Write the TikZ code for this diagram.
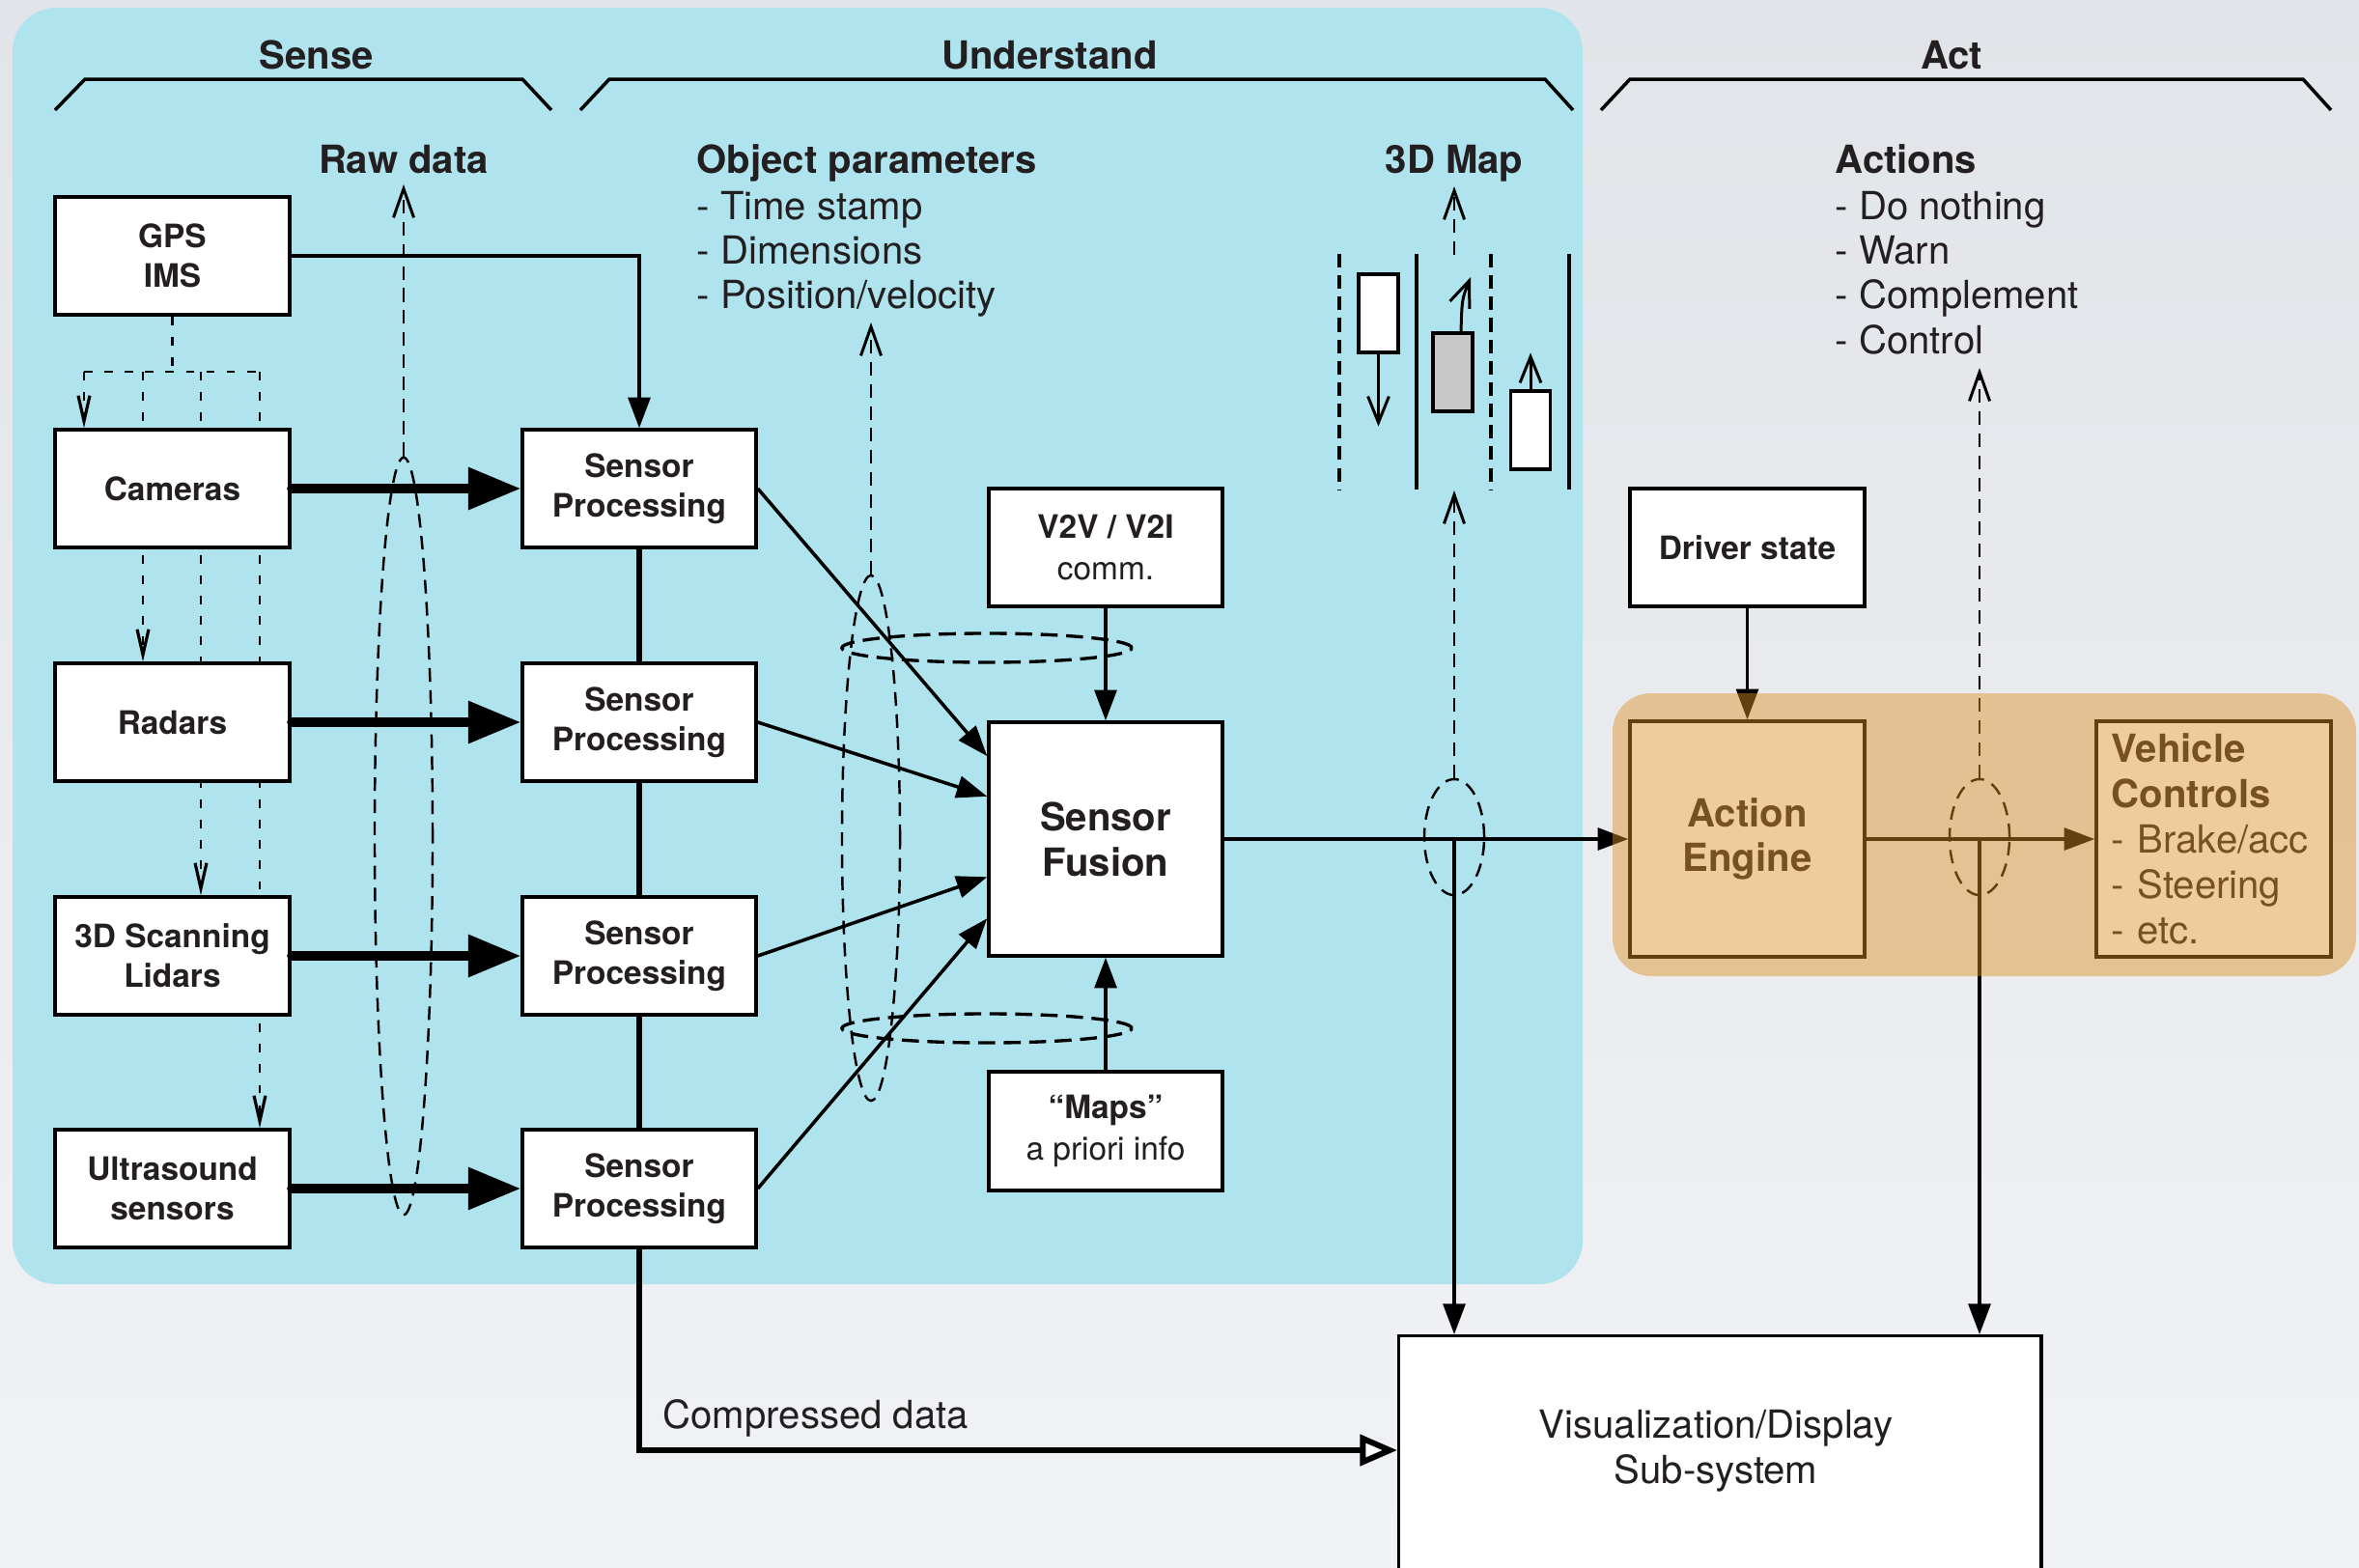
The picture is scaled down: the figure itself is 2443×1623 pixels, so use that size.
\documentclass[tikz,border=0pt]{standalone}
\usepackage{fontspec}
\setmainfont{TeX Gyre Heros}
\usetikzlibrary{arrows.meta,shapes.geometric,calc}
\pgfdeclarelayer{backdrop}
\pgfdeclarelayer{under}
\pgfdeclarelayer{tint}
\pgfsetlayers{backdrop,under,main,tint}

\definecolor{bgtop}{RGB}{225,228,232}
\definecolor{bgbot}{RGB}{241,242,245}
\definecolor{sky}{RGB}{175,228,238}
\definecolor{amber}{RGB}{221,144,35}
\definecolor{cargray}{RGB}{200,200,200}
\definecolor{ink}{RGB}{35,31,32}

\begin{document}
\begin{tikzpicture}[x=0.01cm, y=-0.01cm,
  box/.style={draw=black, line width=0.95pt, fill=white, inner sep=0pt, align=center, text=ink,
    font=\fontsize{9.5}{11.7}\selectfont},
  smallbox/.style={box, minimum width=2.43cm, minimum height=1.22cm, font=\fontsize{9.5}{11.7}\selectfont\bfseries},
  infobox/.style={box, minimum width=2.42cm, minimum height=1.22cm, font=\fontsize{9.5}{12}\selectfont},
  bigbox/.style={box, minimum width=2.42cm, minimum height=2.42cm, font=\fontsize{11.4}{13.3}\selectfont\bfseries},
  vcbox/.style={box, minimum width=2.43cm, minimum height=2.44cm, text width=2.11cm, inner xsep=0.16cm,
    align=left, font=\fontsize{11.4}{13.4}\selectfont},
  header/.style={text=ink, inner sep=0pt, text height=8.2pt, text depth=0pt, font=\fontsize{11.4}{13}\selectfont\bfseries},
  listline/.style={text=ink, anchor=west, inner sep=0pt, text height=8.2pt, text depth=0pt, font=\fontsize{11.4}{13}\selectfont},
  bracket/.style={line width=1pt},
  link/.style={line width=1pt, -{Triangle[length=9pt,width=6.5pt]}},
  fatarrow/.style={line width=2.6pt, line cap=round, -{Triangle[length=15.5pt,width=12pt]}},
  bus/.style={line width=1.5pt},
  pipe/.style={line width=1.7pt, -{Triangle[open, fill=white, length=11pt, width=9pt]}},
  dotline/.style={line width=0.7pt, dash pattern=on 2.5pt off 3.5pt},
  dotlink/.style={dotline, -{Straight Barb[length=7.5pt, width=3.4pt, line width=0.9pt]}},
  flow/.style={line width=0.7pt, dash pattern=on 4pt off 2.5pt},
  flowup/.style={flow, -{Straight Barb[length=8.5pt, width=6pt, line width=0.85pt]}},
  ring/.style={draw, ellipse, inner sep=0pt, flow},
  wide ring/.style={draw, ellipse, inner sep=0pt, line width=0.95pt, dash pattern=on 5pt off 2.5pt},
  lane/.style={line width=0.9pt},
  lanedash/.style={line width=0.9pt, dash pattern=on 4pt off 2.3pt},
  car/.style={draw, line width=0.9pt, fill=white, minimum width=0.41cm, minimum height=0.81cm, inner sep=0pt},
  carmove/.style={line width=0.85pt, -{Straight Barb[length=7.7pt, width=6.2pt, line width=0.85pt]}},
]
\useasboundingbox (0,0) rectangle (2443,1623);

\begin{pgfonlayer}{backdrop}
  \shade[top color=bgtop, bottom color=bgbot] (0,0) rectangle (2443,1623);
  \fill[sky, rounded corners=0.45cm] (13,8) rectangle (1639,1330);
\end{pgfonlayer}

% ---- phase brackets and titles
\draw[bracket] (57,114) -- (88,82) -- (541,82) -- (571,114);
\draw[bracket] (601,114) -- (631,82) -- (1600,82) -- (1629,114);
\draw[bracket] (1658,114) -- (1688,82) -- (2385,82) -- (2414,114);
\node[header] (sense) at (328,57) {Sense};
\node[header] (understand) at (1087,57) {Understand};
\node[header] (act) at (2021,57) {Act};

% ---- output descriptions
\node[header] (rawhead) at (418,165) {Raw data};
\node[header, anchor=west] (objhead) at (721,165) {Object parameters};
\node[listline] (obj1) at (721,213) {- Time stamp};
\node[listline] (obj2) at (721,259) {- Dimensions};
\node[listline] (obj3) at (721,305) {- Position/velocity};
\node[header] (maphead) at (1506,165) {3D Map};
\node[header, anchor=west] (acthead) at (1900,165) {Actions};
\node[listline] (act1) at (1900,213) {- Do nothing};
\node[listline] (act2) at (1900,259) {- Warn};
\node[listline] (act3) at (1900,305) {- Complement};
\node[listline] (act4) at (1900,352) {- Control};

% ---- sensors
\node[smallbox] (gps) at (178.5,265) {GPS\\IMS};
\node[smallbox] (cam) at (178.5,506) {Cameras};
\node[smallbox] (rad) at (178.5,748) {Radars};
\node[smallbox] (lid) at (178.5,990) {3D Scanning\\Lidars};
\node[smallbox] (ult) at (178.5,1231) {Ultrasound\\sensors};

% ---- per-sensor processing
\node[smallbox, minimum width=2.42cm] (sp1) at (662,506) {Sensor\\Processing};
\node[smallbox, minimum width=2.42cm] (sp2) at (662,748) {Sensor\\Processing};
\node[smallbox, minimum width=2.42cm] (sp3) at (662,990) {Sensor\\Processing};
\node[smallbox, minimum width=2.42cm] (sp4) at (662,1231) {Sensor\\Processing};

% ---- fusion and its side inputs
\node[infobox] (v2v) at (1145,567) {\textbf{V2V / V2I}\\comm.};
\node[bigbox] (sf) at (1145,869) {Sensor\\Fusion};
\node[infobox, minimum height=1.23cm] (maps) at (1145,1171.5) {\textbf{``Maps''}\\a priori info};

% ---- acting side
\node[smallbox] (drv) at (1809.5,567) {Driver state};
\node[bigbox, minimum width=2.43cm, minimum height=2.44cm] (ae) at (1809.5,869) {Action\\Engine};
\node[vcbox] (vc) at (2292.5,869) {\textbf{Vehicle}\\\textbf{Controls}\\- Brake/acc\\- Steering\\- etc.};

% ---- display sub-system
\node[draw, line width=0.95pt, fill=white, inner sep=0pt, anchor=north west,
      minimum width=6.65cm, minimum height=3.2cm] (vis) at (1447,1382) {};
\node[text=ink, align=center, font=\fontsize{11.4}{13.4}\selectfont] (vistext) at (1777,1503)
  {Visualization/Display\\Sub-system};
\node[listline] (cmprlabel) at (686,1465) {Compressed data};

% ---- tap points
\coordinate (d0) at (87,385);
\coordinate (d1) at (148,385);
\coordinate (d2) at (208,385);
\coordinate (d3) at (269,385);
\coordinate (rawtip) at (418,191);
\coordinate (objtip) at (902,334);
\coordinate (maptip) at (1506,193);
\coordinate (lanetop) at (1506,264);
\coordinate (lanebottom) at (1506,508);
\coordinate (ctltip) at (2050,381);
\coordinate (visin) at (1447,1502);

% ---- dotted GPS distribution and data taps (behind the boxes)
\begin{pgfonlayer}{under}
  \draw[dotline] (gps.south) -- (gps.south |- d0);
  \draw[dotline] (d0) -- (d3);
  \draw[dotlink] (d0) -- (d0 |- cam.north);
  \draw[dotlink] (d1) -- (d1 |- rad.north);
  \draw[dotlink] (d2) -- (d2 |- lid.north);
  \draw[dotlink] (d3) -- (d3 |- ult.north);

  \node[ring, minimum width=0.6cm, minimum height=7.84cm] (rawring) at (418,866) {};
  \draw[flowup] (rawring.north) -- (rawtip);
  \node[ring, minimum width=0.6cm, minimum height=5.44cm] (objring) at (902,868) {};
  \draw[flowup] (objring.north) -- (objtip);
  \node[wide ring, minimum width=3.0cm, minimum height=0.3cm] (v2vring) at (1022,671) {};
  \node[wide ring, minimum width=3.0cm, minimum height=0.3cm] (mapsring) at (1022,1065) {};
\end{pgfonlayer}

% ---- sensor to processing
\draw[fatarrow] (cam.east) -- (sp1.west);
\draw[fatarrow] (rad.east) -- (sp2.west);
\draw[fatarrow] (lid.east) -- (sp3.west);
\draw[fatarrow] (ult.east) -- (sp4.west);
\draw[link] (gps.east) -| (sp1.north);

% ---- processing column
\draw[bus] (sp1.south) -- (sp2.north);
\draw[bus] (sp2.south) -- (sp3.north);
\draw[bus] (sp3.south) -- (sp4.north);
\draw[pipe] (sp4.south) |- (visin);

% ---- into the fusion
\draw[link] (sp1.east) -- ($(sf.north west)!0.15!(sf.south west)$);
\draw[link] (sp2.east) -- ($(sf.north west)!0.32!(sf.south west)$);
\draw[link] (sp3.east) -- ($(sf.north west)!0.66!(sf.south west)$);
\draw[link] (sp4.east) -- ($(sf.north west)!0.835!(sf.south west)$);
\draw[link] (v2v.south) -- (sf.north);
\draw[link] (maps.north) -- (sf.south);

% ---- fusion to action
\draw[link] (sf.east) -- (ae.west);
\draw[link] (drv.south) -- (ae.north);
\draw[link] (ae.east) -- (vc.west);

\node[ring, minimum width=0.62cm, minimum height=1.2cm] (mapring) at (1506,867) {};
\draw[flowup] (mapring.north) -- (lanebottom);
\draw[flowup] (lanetop) -- (maptip);
\draw[link] (mapring.center) -- (mapring.center |- vis.north);

\node[ring, minimum width=0.62cm, minimum height=1.2cm] (ctlring) at (2050,867) {};
\draw[flowup] (ctlring.north) -- (ctltip);
\draw[link] (ctlring.center) -- (ctlring.center |- vis.north);

% ---- lane sketch of the 3D map
\draw[lanedash] (1387,263) -- (1387,507);
\draw[lane] (1467,263) -- (1467,507);
\draw[lanedash] (1544,263) -- (1544,507);
\draw[lane] (1625,263) -- (1625,507);
\node[car] (car1) at (1427.5,324.5) {};
\node[car, fill=cargray] (car2) at (1504.5,385.5) {};
\node[car] (car3) at (1585,445.5) {};
\draw[carmove] (car1.south) -- ++(0,75);
\draw[carmove] ([xshift=0.085cm]car2.north) .. controls (1514,310) .. (1523,287);
\draw[carmove] (car3.north) -- ++(0,-38);

% ---- tinted action area
\begin{pgfonlayer}{tint}
  \fill[amber, opacity=0.45, rounded corners=0.4cm] (1670,718) rectangle (2440,1011);
\end{pgfonlayer}
\end{tikzpicture}
\end{document}
